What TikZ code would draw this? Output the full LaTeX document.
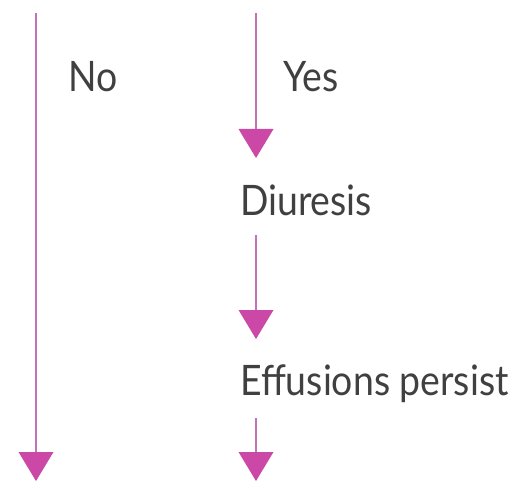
\documentclass[tikz,border=0pt]{standalone}
\usepackage{fontspec}
\setmainfont{Lato}[FakeStretch=0.89]
\usetikzlibrary{arrows.meta}
\definecolor{lineC}{RGB}{196,112,188}
\definecolor{tipC}{RGB}{204,72,166}
\tikzset{
  flow/.style={draw=lineC, line width=1.4pt,
    -{Triangle[width=35pt,length=29pt,fill=tipC,color=tipC,line width=0pt]}},
  label/.style={anchor=base west, inner sep=0pt, font=\fontsize{42}{50}\selectfont, text=black!75}
}
\begin{document}
\begin{tikzpicture}[x=1pt,y=-1pt]
\useasboundingbox (0,0) rectangle (518,481);
\coordinate (ltop) at (36,13);
\coordinate (lend) at (36,481);
\coordinate (rtop) at (256,13);
\coordinate (r1end) at (256,158);
\coordinate (r2top) at (256,235);
\coordinate (r2end) at (256,339);
\coordinate (r3top) at (256,418);
\coordinate (r3end) at (256,481);
\node[label] (no) at (68,92) {No};
\node[label] (yes) at (283,92) {Yes};
\node[label] (diuresis) at (240,215) {Diuresis};
\node[label] (effusions) at (240,395) {Effusions persist};
\draw[flow] (ltop) -- (lend);
\draw[flow] (rtop) -- (r1end);
\draw[flow] (r2top) -- (r2end);
\draw[flow] (r3top) -- (r3end);
\end{tikzpicture}
\end{document}
